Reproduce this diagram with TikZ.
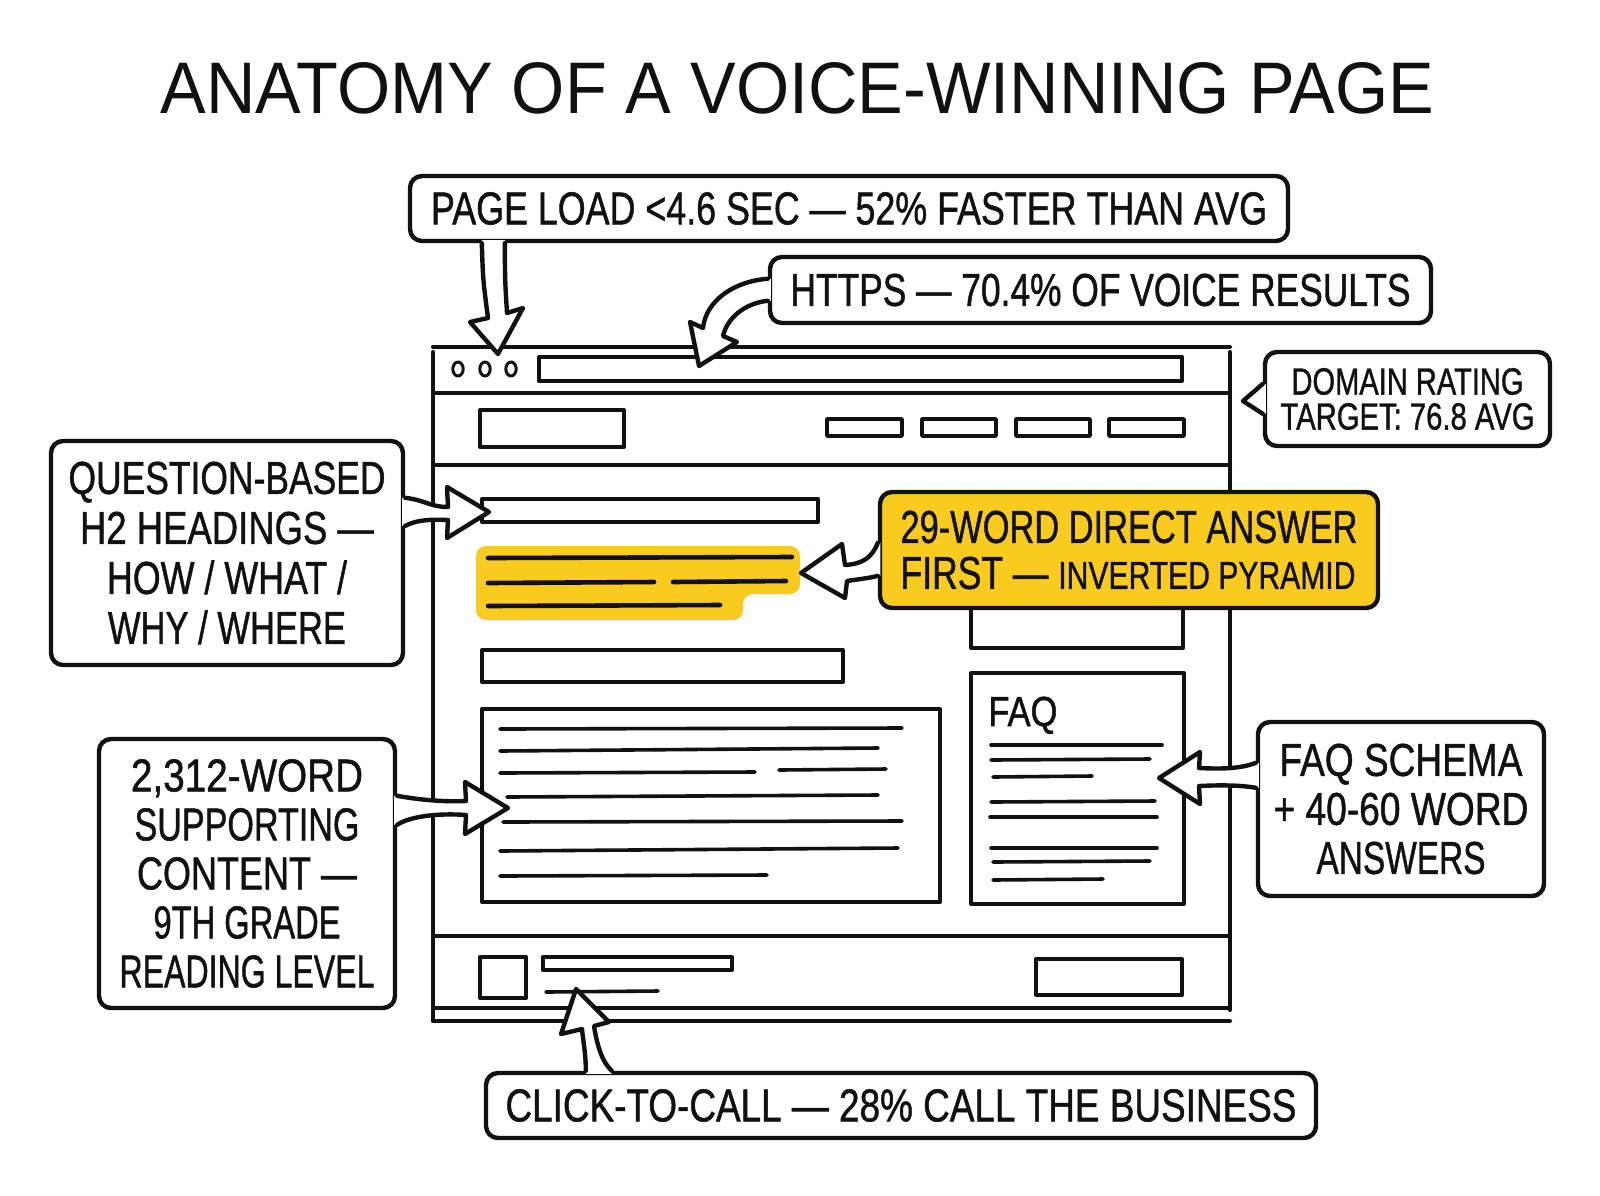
\documentclass[tikz,border=0pt]{standalone}
\usepackage{fontspec}
\setmainfont{Liberation Sans}[FakeBold=1.2]
\newfontfamily\titlefont{Liberation Sans}
\usetikzlibrary{calc}
\definecolor{ink}{HTML}{111111}
\definecolor{hl}{HTML}{F8CB1E}
\newcommand\fw[2]{\resizebox{#1pt}{\height}{#2}}
\begin{document}
\begin{tikzpicture}[x=0.5pt,y=-0.5pt,line join=round,line cap=round,
  ln/.style={draw=ink,line width=2pt},
  thin/.style={draw=ink,line width=1.8pt},
  callout/.style={draw=ink,line width=2.2pt,fill=white,rounded corners=6pt,inner sep=0pt,align=center,text=ink},
  arrowline/.style={draw=ink,line width=2.2pt},
  lblA/.style={font={\fontsize{23}{25}\selectfont}}]
\useasboundingbox (0,0) rectangle (1600,1195);
\fill[white] (0,0) rectangle (1600,1195);

% title
\node[inner sep=0pt,text=ink] (title) at (797.5,88.5) {\resizebox{636.5pt}{25.5pt}{\titlefont ANATOMY OF A VOICE-WINNING PAGE}};

% ---------- browser ----------
\draw[ln] (433,347) -- (1230,347);
\draw[ln] (433,352) -- (433,1021);
\draw[ln] (1230,352) -- (1230,1010);
\draw[ln] (433,393) -- (1230,393);
\draw[ln] (433,465) -- (1230,465);
\draw[ln] (433,936) -- (1230,936);
\draw[ln] (433,1008) -- (1230,1008);
\draw[ln] (433,1021) -- (1230,1021);
\foreach \dx in {458,485,511} \draw[draw=ink,line width=1.5pt] (\dx,369) ellipse [x radius=2.6pt,y radius=3.5pt];
\draw[ln] (539,357) rectangle (1182,381);
\draw[ln] (480,410) rectangle (624,447);
\draw[thin] (827,419) rectangle (902,436);
\draw[thin] (922,419) rectangle (996,436);
\draw[thin] (1016,419) rectangle (1090,436);
\draw[thin] (1109,419) rectangle (1184,436);
% headings and highlight
\draw[ln] (482,499) rectangle (818,522);
\fill[hl,rounded corners=5pt] (476,546) -- (800,546) -- (800,594) -- (743,594) -- (743,620) -- (476,620) -- cycle;
\draw[thin,line width=2.3pt] (488,558) -- (792,557);
\draw[thin,line width=2.3pt] (488,583) -- (654,582);
\draw[thin,line width=2.3pt] (673,582) -- (786,581);
\draw[thin,line width=2.3pt] (488,606) -- (720,605);
\draw[ln] (482,650) rectangle (843,682);
% content box
\draw[ln] (482,709) rectangle (940,902);
\draw[thin] (500,729) -- (902,728);
\draw[thin] (500,751) -- (878,748);
\draw[thin] (500,773) -- (755,772);
\draw[thin] (779,770) -- (886,769);
\draw[thin] (507,797) -- (878,795);
\draw[thin] (503,822) -- (902,821);
\draw[thin] (500,851) -- (898,848);
\draw[thin] (500,876) -- (767,875);
% right column
\draw[ln] (971,560) rectangle (1183,648);
\draw[ln] (971,673) rectangle (1184,904);
\node[inner sep=0pt,text=ink,font={\fontsize{21}{21}\selectfont},anchor=base west] (faqlbl) at (988,726) {\fw{34.5}{FAQ}};
\draw[thin] (991,745) -- (1162,745);
\draw[thin] (991,760) -- (1150,759);
\draw[thin] (993,777) -- (1092,776);
\draw[thin] (991,802) -- (1155,801);
\draw[thin] (990,817) -- (1157,817);
\draw[thin] (991,848) -- (1157,848);
\draw[thin] (993,862) -- (1150,861);
\draw[thin] (993,880) -- (1103,879);
% footer
\draw[ln] (480,957) rectangle (526,998);
\draw[ln] (543,957) rectangle (732,970);
\draw[thin] (546,992) -- (658,991);
\draw[ln] (1036,959) rectangle (1182,995);

% ---------- callouts ----------
\node[callout,lblA,minimum width=439pt,minimum height=32.5pt] (load) at (849,208.5) {\fw{418}{PAGE LOAD <4.6 SEC — 52\% FASTER THAN AVG}};
\node[callout,lblA,minimum width=330.5pt,minimum height=33pt] (https) at (1100.5,290) {\fw{310}{HTTPS — 70.4\% OF VOICE RESULTS}};
\node[callout,font={\fontsize{18.9}{17.5}\selectfont},minimum width=142.5pt,minimum height=47pt] (domain) at (1407.5,399) {\fw{116}{DOMAIN RATING}\\\fw{127}{TARGET: 76.8 AVG}};
\node[callout,lblA,minimum width=176pt,minimum height=112pt] (question) at (227,553) {\fw{158.5}{QUESTION-BASED}\\\fw{147}{H2 HEADINGS —}\\\fw{120}{HOW / WHAT /}\\\fw{119}{WHY / WHERE}};
\node[callout,fill=hl,align=left,font={\fontsize{23}{23}\selectfont},minimum width=249pt,minimum height=58pt] (ans) at (1129,550) {\fw{228.5}{29-WORD DIRECT ANSWER}\\\fw{227.5}{FIRST — {\fontsize{19.5}{23}\selectfont INVERTED PYRAMID}}};
\node[callout,font={\fontsize{23}{24.5}\selectfont},minimum width=148pt,minimum height=134.5pt] (support) at (247,873.5) {\fw{116}{2,312-WORD}\\\fw{112.5}{SUPPORTING}\\\fw{110}{CONTENT —}\\\fw{93.5}{9TH GRADE}\\\fw{127.5}{READING LEVEL}};
\node[callout,font={\fontsize{23}{24.5}\selectfont},minimum width=143pt,minimum height=87pt] (faqs) at (1401,809) {\fw{121.5}{FAQ SCHEMA}\\\fw{127.5}{+ 40-60 WORD}\\\fw{84.5}{ANSWERS}};
\node[callout,lblA,minimum width=415pt,minimum height=32.5pt] (click) at (901,1105.5) {\fw{395.5}{CLICK-TO-CALL — 28\% CALL THE BUSINESS}};

% ---------- arrow tips ----------
\coordinate (tA) at (498,354);
\coordinate (tB) at (699,366);
\coordinate (tC) at (489,512);
\coordinate (tD) at (801,573);
\coordinate (tE) at (508,808);
\coordinate (tF) at (1159,778);
\coordinate (tG) at (576,989);
\coordinate (tT) at (1243,401);

% A: page load -> window dots
\fill[white] ($(load.south west)+(74,-3)$) .. controls (483,280) .. (488,318) -- (470,322) -- (tA) -- (523,308) -- (507,313) .. controls (505,280) .. ($(load.south west)+(97,-3)$) -- cycle;
\draw[arrowline] ($(load.south west)+(74,0)$) .. controls (483,280) .. (488,318) -- (470,322) -- (tA) -- (523,308) -- (507,313) .. controls (505,280) .. ($(load.south west)+(97,0)$);
% B: https -> url bar
\fill[white] ($(https.north west)+(3,24)$) .. controls (735,281) and (706,300) .. (703,328) -- (690,322) -- (tB) -- (737,342) -- (723,336) .. controls (727,318) and (745,303) .. ($(https.north west)+(3,46)$) -- cycle;
\draw[arrowline] ($(https.north west)+(0,24)$) .. controls (735,281) and (706,300) .. (703,328) -- (690,322) -- (tB) -- (737,342) -- (723,336) .. controls (727,318) and (745,303) .. ($(https.north west)+(0,46)$);
% C: question -> h2 bar
\fill[white] ($(question.north east)+(-3,59)$) .. controls (425,500) and (430,507) .. (448,507) -- (447,487) -- (tC) -- (447,538) -- (448,520) .. controls (425,519) and (415,521) .. ($(question.north east)+(-3,87)$) -- cycle;
\draw[arrowline] ($(question.north east)+(0,59)$) .. controls (425,500) and (430,507) .. (448,507) -- (447,487) -- (tC) -- (447,538) -- (448,520) .. controls (425,519) and (415,521) .. ($(question.north east)+(0,87)$);
% D: direct answer -> highlight
\fill[white] ($(ans.north west)+(2.5,53)$) .. controls (872,558) and (862,564) .. (845,565) -- (842,544) -- (tD) -- (845,598) -- (847,581) .. controls (860,579) and (870,578) .. ($(ans.north west)+(2.5,86)$) -- cycle;
\draw[arrowline] ($(ans.north west)+(0,53)$) .. controls (872,558) and (862,564) .. (845,565) -- (842,544) -- (tD) -- (845,598) -- (847,581) .. controls (860,579) and (870,578) .. ($(ans.north west)+(0,86)$);
% E: supporting -> content box
\fill[white] ($(support.north east)+(-3,59)$) .. controls (420,800) and (445,802) .. (466,801) -- (465,782) -- (tE) -- (465,834) -- (466,815) .. controls (440,813) and (410,816) .. ($(support.north east)+(-3,88)$) -- cycle;
\draw[arrowline] ($(support.north east)+(0,59)$) .. controls (420,800) and (445,802) .. (466,801) -- (465,782) -- (tE) -- (465,834) -- (466,815) .. controls (440,813) and (410,816) .. ($(support.north east)+(0,88)$);
% F: faq schema -> faq box
\fill[white] ($(faqs.north west)+(3,43)$) .. controls (1240,769) and (1220,769) .. (1199,768) -- (1200,752) -- (tF) -- (1200,804) -- (1199,786) .. controls (1220,785) and (1240,785) .. ($(faqs.north west)+(3,68)$) -- cycle;
\draw[arrowline] ($(faqs.north west)+(0,43)$) .. controls (1240,769) and (1220,769) .. (1199,768) -- (1200,752) -- (tF) -- (1200,804) -- (1199,786) .. controls (1220,785) and (1240,785) .. ($(faqs.north west)+(0,68)$);
% G: click-to-call -> footer
\fill[white] ($(click.north west)+(102,3)$) .. controls (586,1055) and (583,1040) .. (582,1029) -- (561,1034) -- (tG) -- (609,1022) -- (594,1026) .. controls (597,1045) and (602,1062) .. ($(click.north west)+(128,3)$) -- cycle;
\draw[arrowline] ($(click.north west)+(102,0)$) .. controls (586,1055) and (583,1040) .. (582,1029) -- (561,1034) -- (tG) -- (609,1022) -- (594,1026) .. controls (597,1045) and (602,1062) .. ($(click.north west)+(128,0)$);
% domain rating tail
\fill[white] ($(domain.north west)+(3,34)$) -- (tT) -- ($(domain.north west)+(3,64)$) -- cycle;
\draw[arrowline] ($(domain.north west)+(0,34)$) -- (tT) -- ($(domain.north west)+(0,64)$);
\end{tikzpicture}
\end{document}
